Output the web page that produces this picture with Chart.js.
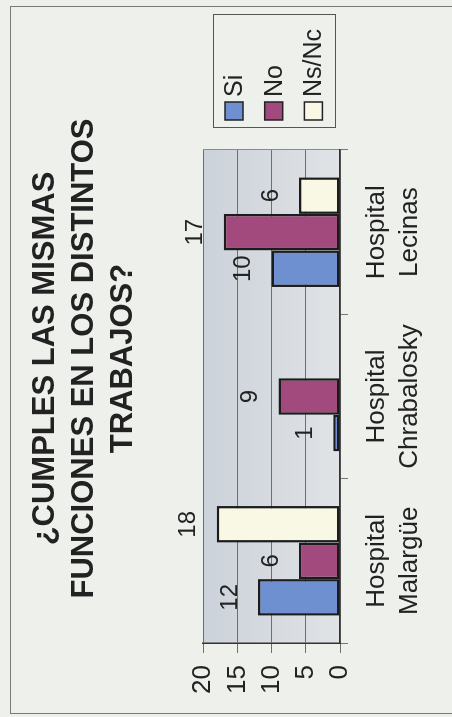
<!DOCTYPE html>
<html>
<head>
<meta charset="UTF-8">
<title>Cumples las mismas funciones</title>
<style>
  html, body { margin: 0; padding: 0; background: #eef0ec; overflow: hidden; }
  /* el grafico original esta girado 90 grados */
  #giro { position: absolute; left: 0; top: 0; width: 717px; height: 452px;
          transform-origin: 0 0; transform: translate(0, 717px) rotate(-90deg); }
</style>
</head>
<body>
<div id="giro"><canvas id="grafico" width="717" height="452"></canvas></div>
<script src="https://cdn.jsdelivr.net/npm/chart.js"></script>
<script>
// datos
const hospitales = [['Hospital', 'Malargüe'], ['Hospital', 'Chrabalosky'], ['Hospital', 'Lecinas']];
const si = [12, 1, 10];
const no = [6, 9, 17];
const nsnc = [18, null, 6];
const escala = [0, 5, 10, 15, 20];
const titulo = ['¿CUMPLES LAS MISMAS', 'FUNCIONES EN LOS DISTINTOS', 'TRABAJOS?'];

const letra = "'Liberation Sans', Arial, sans-serif";

// fondo, marco y area gris
const fondo = {
  id: 'fondo',
  beforeDraw(chart) {
    const {ctx, chartArea: a} = chart;
    ctx.save();
    ctx.fillStyle = '#eef0ec';
    ctx.fillRect(0, 0, chart.width, chart.height);
    ctx.strokeStyle = '#7a7a7a';
    ctx.lineWidth = 1;
    ctx.strokeRect(3.5, 10.5, 707, 470);
    const g = ctx.createLinearGradient(0, a.top, 0, a.bottom);
    g.addColorStop(0, '#ccd2da');
    g.addColorStop(1, '#e0e3e6');
    ctx.fillStyle = g;
    ctx.fillRect(a.left, a.top, a.width, a.height);
    ctx.strokeStyle = '#8a8a8a';
    ctx.beginPath();
    ctx.moveTo(a.right + 0.5, a.top);
    ctx.lineTo(a.right + 0.5, a.bottom + 8);
    ctx.stroke();
    ctx.restore();
  },
  afterLayout(chart) {
    // el titulo se centra en todo el ancho
    chart.titleBlock.left = 0;
    chart.titleBlock.right = chart.width;
    chart.titleBlock.width = chart.width;
  }
};

// numeros sobre las barras
const etiquetas = {
  id: 'etiquetas',
  afterDatasetsDraw(chart) {
    const {ctx} = chart;
    ctx.save();
    ctx.font = '24px ' + letra;
    ctx.fillStyle = '#222';
    ctx.textAlign = 'center';
    ctx.textBaseline = 'middle';
    chart.data.datasets.forEach((ds, i) => {
      chart.getDatasetMeta(i).data.forEach((barra, j) => {
        const v = ds.data[j];
        if (v === null) return;
        ctx.fillText(v, barra.x, barra.y - 28);
      });
    });
    ctx.restore();
  }
};

// leyenda con recuadro
const leyenda = {
  id: 'leyenda',
  afterDraw(chart) {
    const {ctx} = chart;
    ctx.save();
    ctx.strokeStyle = '#555';
    ctx.lineWidth = 1;
    ctx.strokeRect(589.5, 213.5, 113, 122);
    ctx.font = '25px ' + letra;
    ctx.textBaseline = 'middle';
    chart.data.datasets.forEach((ds, i) => {
      const y = 234 + i * 39.7;
      ctx.fillStyle = ds.backgroundColor;
      ctx.fillRect(597, y - 9, 18, 18);
      ctx.strokeStyle = '#222';
      ctx.lineWidth = 1.5;
      ctx.strokeRect(597, y - 9, 18, 18);
      ctx.fillStyle = '#222';
      ctx.fillText(ds.label, 620, y + 1);
    });
    ctx.restore();
  }
};

const comun = { borderColor: '#1c1c1c', borderWidth: 2.5, borderSkipped: false,
                barPercentage: 1, categoryPercentage: 0.667 };

new Chart(document.getElementById('grafico'), {
  type: 'bar',
  data: {
    labels: hospitales,
    datasets: [
      { label: 'Si', data: si, backgroundColor: '#6e8fd0', ...comun },
      { label: 'No', data: no, backgroundColor: '#a24a7e', ...comun },
      { label: 'Ns/Nc', data: nsnc, backgroundColor: '#f8f8e4', ...comun }
    ]
  },
  options: {
    responsive: false,
    animation: false,
    layout: { padding: { right: 150 } },
    plugins: {
      legend: { display: false },
      tooltip: { enabled: false },
      title: {
        display: true,
        text: titulo,
        color: '#222',
        font: { family: letra, size: 31, weight: 'bold', lineHeight: 1.26 },
        padding: { top: 25.5, bottom: 60.5 }
      }
    },
    scales: {
      x: {
        grid: { drawOnChartArea: false, offset: true, color: '#777', tickLength: 8 },
        border: { color: '#333', width: 1.5 },
        ticks: { color: '#222', padding: 12, maxRotation: 0, autoSkip: false,
                 font: { family: letra, size: 26, lineHeight: 1.27 } },
        afterFit(scale) { scale.height = 112; }
      },
      y: {
        min: escala[0],
        max: escala[escala.length - 1],
        ticks: { stepSize: escala[1] - escala[0], color: '#222', padding: 12,
                 font: { family: letra, size: 26 } },
        grid: { color: '#6e6e6e', tickLength: 10 },
        border: { color: '#333', width: 1.5 },
        afterFit(scale) { scale.width = 74; }
      }
    }
  },
  plugins: [fondo, etiquetas, leyenda]
});
</script>
</body>
</html>
